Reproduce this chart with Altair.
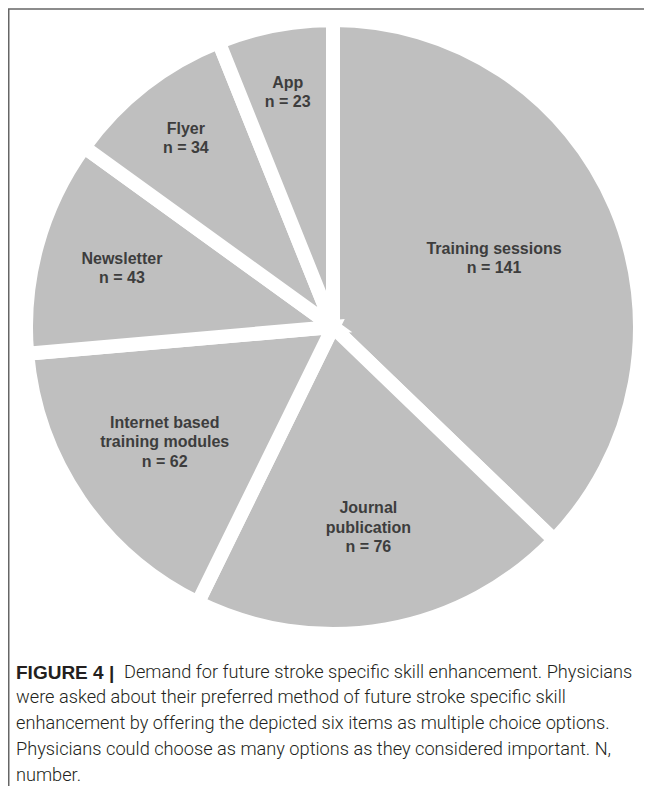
import altair as alt
import pandas as pd

# ---- data ----
categories = ["Training sessions", "Journal publication", "Internet based training modules",
              "Newsletter", "Flyer", "App"]
label_lines = [["Training sessions"], ["Journal", "publication"], ["Internet based", "training modules"],
               ["Newsletter"], ["Flyer"], ["App"]]
counts = [141, 76, 62, 43, 34, 23]

caption_bold = "FIGURE 4 |"
caption_first = "Demand for future stroke specific skill enhancement. Physicians"
caption_rest = [
    "were asked about their preferred method of future stroke specific skill",
    "enhancement by offering the depicted six items as multiple choice options.",
    "Physicians could choose as many options as they considered important. N,",
    "number.",
]

df = pd.DataFrame({
    "category": categories,
    "n": counts,
    "idx": list(range(len(categories))),
})
df["lines"] = [lines + [f"n = {v}"] for lines, v in zip(label_lines, counts)]

TOTAL = sum(counts)
W, H = 636, 778
CX, CY = 325, 319
R = 307
GRAY = "#bfbfbf"
LABEL = "#3d3d3d"
LH = 19.5
theta_scale = alt.Scale(domain=[0, TOTAL])

arcs = alt.Chart(df).mark_arc(
    outerRadius=R, fill=GRAY, stroke="white", strokeWidth=14
).encode(
    theta=alt.Theta("n:Q", stack=True, scale=theta_scale),
    order=alt.Order("idx:Q"),
    x=alt.value(CX),
    y=alt.value(CY),
)

label_base = alt.Chart(df).transform_window(
    t1="sum(n)", sort=[alt.SortField("idx", order="ascending")],
    frame=[None, 0]
).transform_calculate(
    mid="datum.t1 - datum.n / 2"
)


def labels(names, radius, nlines):
    return label_base.transform_filter(
        alt.FieldOneOfPredicate(field="category", oneOf=names)
    ).mark_text(
        radius=radius, font="Liberation Sans", fontSize=16, fontWeight="bold",
        color=LABEL, lineHeight=LH, align="center", baseline="middle",
        dy=-(nlines - 1) * LH / 2
    ).encode(
        theta=alt.Theta("mid:Q", scale=theta_scale),
        x=alt.value(CX),
        y=alt.value(CY),
        text="lines:N",
    )


lab1 = labels(["App", "Flyer"], 239, 2)
lab2 = labels(["Newsletter"], 219, 2)
lab3 = labels(["Training sessions"], 175, 2)
lab4 = labels(["Internet based training modules", "Journal publication"], 204, 3)

cap = alt.Chart(pd.DataFrame({"a": [0]}))
cap_bold = cap.mark_text(
    text=caption_bold, font="Liberation Sans", fontSize=19, fontWeight="bold",
    color="#231f20", align="left", baseline="middle"
).encode(x=alt.value(8), y=alt.value(665))
cap_first = cap.mark_text(
    text=caption_first, font="Roboto", fontSize=18.2, fontWeight=300,
    color="#231f20", align="left", baseline="middle"
).encode(x=alt.value(116), y=alt.value(665))
cap_rest = cap.mark_text(
    text=caption_rest, font="Roboto", fontSize=18.2, fontWeight=300,
    color="#231f20", align="left", baseline="top", lineHeight=26
).encode(x=alt.value(8), y=alt.value(681))

frame_top = cap.mark_rule(color="#666666", strokeWidth=1.5).encode(
    x=alt.value(0), x2=alt.value(W), y=alt.value(1))
frame_left = cap.mark_rule(color="#666666", strokeWidth=1.5).encode(
    x=alt.value(0.75), y=alt.value(1), y2=alt.value(H))

chart = alt.layer(
    arcs, lab1, lab2, lab3, lab4, cap_bold, cap_first, cap_rest, frame_top, frame_left
).properties(
    width=W, height=H, padding=0, autosize=alt.AutoSizeParams(type="none")
).configure_view(stroke=None)

chart.save("out.html", embed_options={"renderer": "svg", "actions": False})
